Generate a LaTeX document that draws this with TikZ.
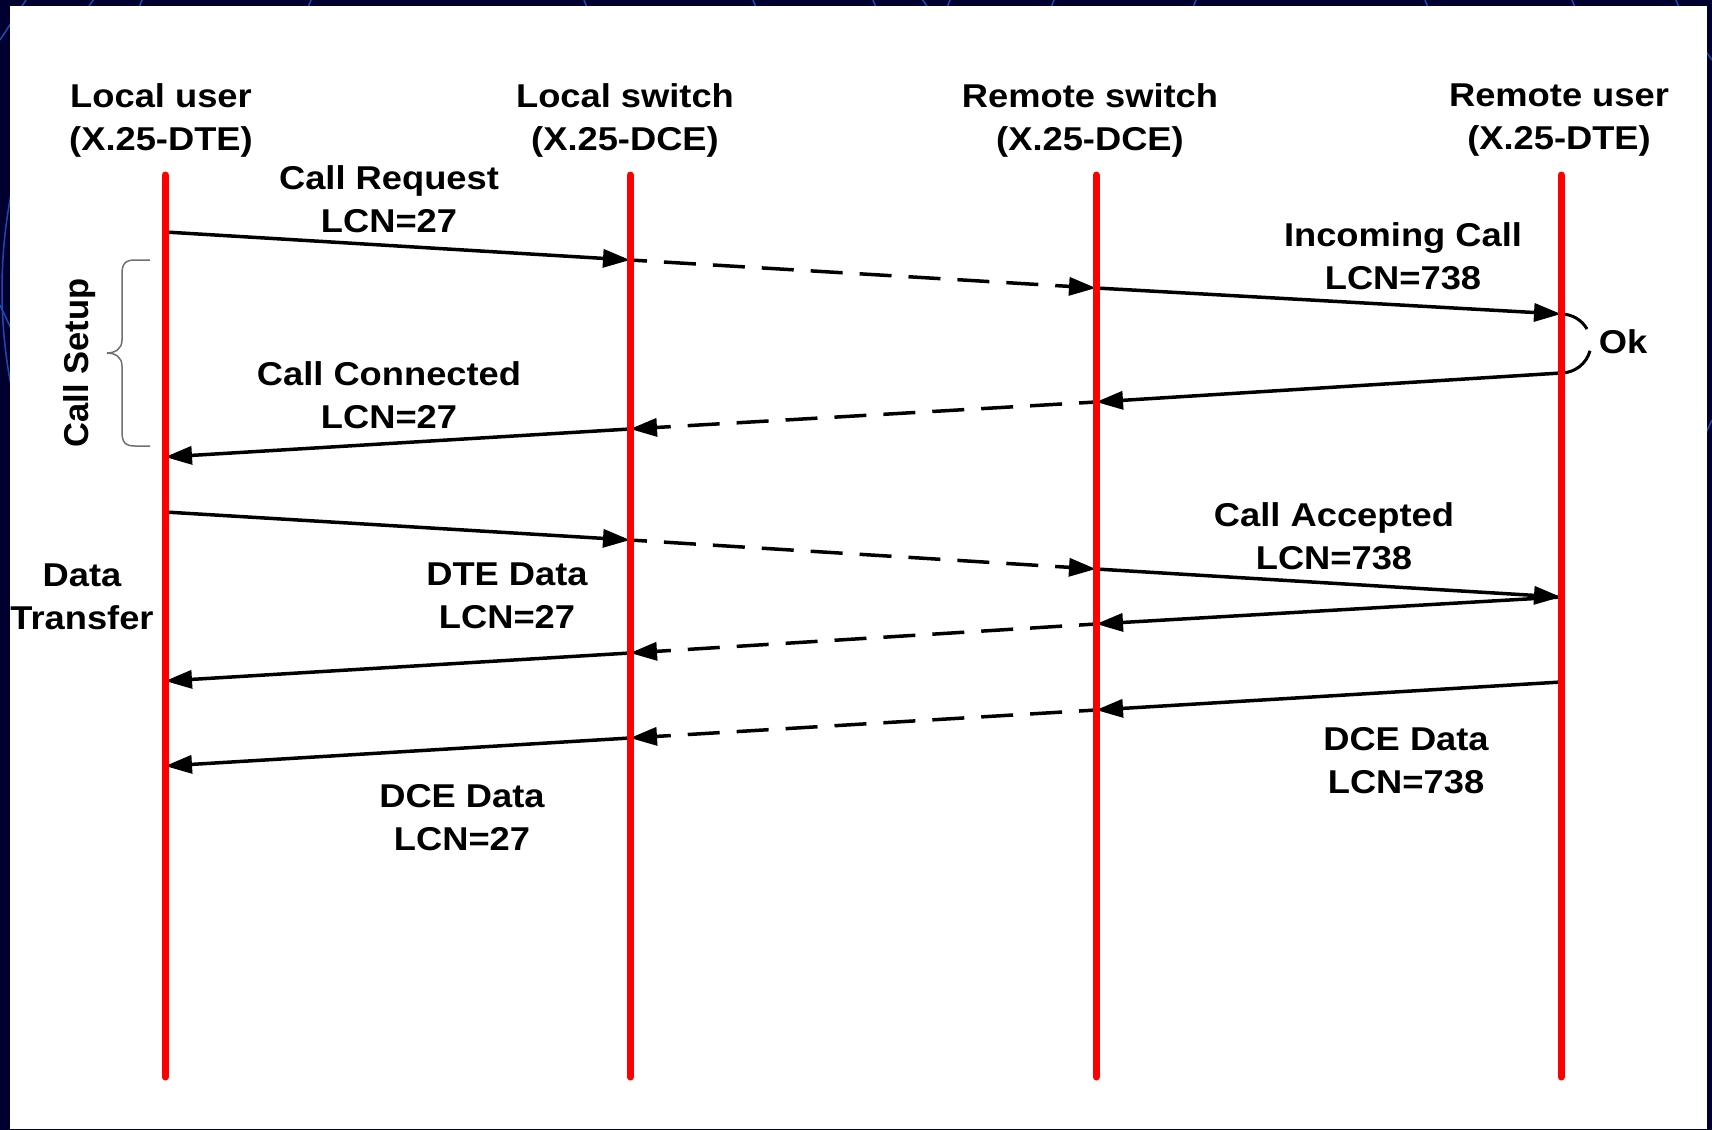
\documentclass[tikz,border=0pt]{standalone}
\usepackage{fontspec}
\setmainfont{Liberation Sans}[FakeStretch=1.1]
\newfontfamily\sidefont{Liberation Sans}
\usetikzlibrary{arrows.meta}

\definecolor{bgdark}{HTML}{000030}
\definecolor{bgmid}{HTML}{00007A}
\definecolor{bgline}{HTML}{1E4AAE}
\definecolor{bracegray}{HTML}{707070}

\begin{document}
\begin{tikzpicture}[x=1pt,y=-1pt,
  lifeline/.style={draw=red, line width=7pt, line cap=round},
  msg/.style={draw=black, line width=3.5pt, -{Triangle[length=27pt,width=18pt]}},
  relay/.style={msg, dash pattern=on 32pt off 17pt, dash phase=15pt},
  okarc/.style={draw=black, line width=3pt},
  bracepath/.style={draw=bracegray, line width=1.5pt},
  lbl/.style={font=\fontsize{33}{43}\selectfont\bfseries, align=center, inner sep=0pt, text=black},
  sidelbl/.style={font=\sidefont\fontsize{34.5}{43}\selectfont\bfseries, inner sep=0pt, text=black},
  bgarc/.style={draw=bgline, line width=1.5pt}]

\useasboundingbox (0,0) rectangle (1712,1129);

% slide background with its faint arcs
\shade[top color=bgdark, middle color=bgmid, bottom color=bgdark] (0,0) rectangle (1712,1129);
\draw[bgarc] (508,290) circle[radius=506];
\draw[bgarc] (0,305) -- (14,335);
\draw[bgarc] (0,40) -- (26,0);
\draw[bgarc] (1712,60) -- (1690,30);
\draw[bgarc] (1712,420) -- (1700,445);
\foreach \x/\d in {142/1,311/1,584/-1,753/-1,873/-1,950/1,1054/1,1196/1,1425/-1,1572/-1,1676/-1}
  \draw[bgarc] (\x,0) -- ++(-4*\d,10);

% white drawing area
\fill[white] (10,6) rectangle (1707,1129);

% lifeline end points
\coordinate (L1top) at (165,175);  \coordinate (L1bot) at (165,1077);
\coordinate (L2top) at (630,175);  \coordinate (L2bot) at (630,1077);
\coordinate (L3top) at (1096,175); \coordinate (L3bot) at (1096,1077);
\coordinate (L4top) at (1561,175); \coordinate (L4bot) at (1561,1077);

% message points on the lifelines
\coordinate (a1) at (165,232);  \coordinate (b1) at (630,260);
\coordinate (c1) at (1096,288); \coordinate (d1) at (1561,314);
\coordinate (d2) at (1561,373); \coordinate (c2) at (1096,402);
\coordinate (b2) at (630,429);  \coordinate (a2) at (165,457);
\coordinate (a3) at (165,512);  \coordinate (b3) at (630,540);
\coordinate (c3) at (1096,569); \coordinate (d3) at (1561,597);
\coordinate (c4) at (1096,624); \coordinate (b4) at (630,653);
\coordinate (a4) at (165,681);
\coordinate (d5) at (1561,682); \coordinate (c5) at (1096,710);
\coordinate (b5) at (630,738);  \coordinate (a5) at (165,766);

% headings
\node[lbl] (hlu) at (161,120) {Local user\\(X.25-DTE)};
\node[lbl] (hls) at (625,120) {Local switch\\(X.25-DCE)};
\node[lbl] (hrs) at (1090,120) {Remote switch\\(X.25-DCE)};
\node[lbl] (hru) at (1559,120) {Remote user\\(X.25-DTE)};

% message labels
\node[lbl] (tcr) at (389,199) {Call Request\\LCN=27};
\node[lbl] (tic) at (1403,256) {Incoming Call\\LCN=738};
\node[lbl] (tok) at (1623,342) {Ok};
\node[lbl] (tcc) at (389,395) {Call Connected\\LCN=27};
\node[lbl] (tca) at (1334,536) {Call Accepted\\LCN=738};
\node[lbl] (tdt) at (82,597) {Data\\Transfer};
\node[lbl] (tdte) at (507,596) {DTE Data\\LCN=27};
\node[lbl] (tdcer) at (1406,761) {DCE Data\\LCN=738};
\node[lbl] (tdcel) at (462,818) {DCE Data\\LCN=27};
\node[sidelbl, rotate=90] (tcs) at (80,363) {Call Setup};

% call setup brace
\coordinate (brtop) at (150,260);
\coordinate (brtip) at (107,353);
\coordinate (brbot) at (150,446);
\draw[bracepath] (brtop) -- (135,260) .. controls (125,260) and (122,264) .. (122,274)
  -- (122,340) .. controls (122,349) and (115,353) .. (brtip)
  .. controls (115,353) and (122,357) .. (122,366)
  -- (122,432) .. controls (122,442) and (125,446) .. (135,446) -- (brbot);

% call setup messages
\draw[msg] (a1) -- (b1);
\draw[relay] (b1) -- (c1);
\draw[msg] (c1) -- (d1);
\draw[okarc] (d1) arc[start angle=-90, end angle=-30, radius=30];
\draw[okarc] (d2) arc[start angle=90, end angle=15, radius=30];
\draw[msg] (d2) -- (c2);
\draw[relay] (c2) -- (b2);
\draw[msg] (b2) -- (a2);

% data transfer messages
\draw[msg] (a3) -- (b3);
\draw[relay] (b3) -- (c3);
\draw[msg] (c3) -- (d3);
\draw[msg] (d3) -- (c4);
\draw[relay] (c4) -- (b4);
\draw[msg] (b4) -- (a4);
\draw[msg] (d5) -- (c5);
\draw[relay] (c5) -- (b5);
\draw[msg] (b5) -- (a5);

% lifelines
\draw[lifeline] (L1top) -- (L1bot);
\draw[lifeline] (L2top) -- (L2bot);
\draw[lifeline] (L3top) -- (L3bot);
\draw[lifeline] (L4top) -- (L4bot);
\end{tikzpicture}
\end{document}
